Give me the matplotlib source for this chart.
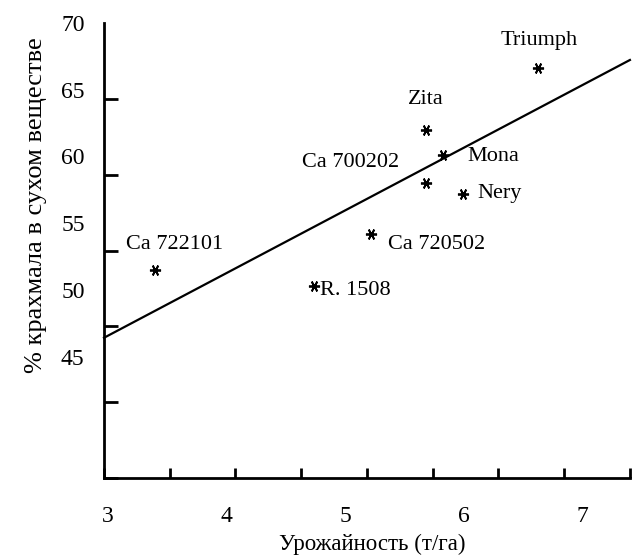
import numpy as np
import matplotlib
matplotlib.use('Agg')
import matplotlib.pyplot as plt

plt.rcParams['font.family'] = ['Liberation Serif', 'DejaVu Serif']

# sorts: yield (t/ha) and starch in dry matter (%)
names = ['Ca 722101', 'R. 1508', 'Ca 720502', 'Ca 700202', 'Zita', 'Mona', 'Nery', 'Triumph']
yield_t = [3.40, 4.74, 5.22, 5.68, 5.68, 5.83, 6.00, 6.63]
starch = [51.5, 50.3, 54.2, 58.0, 62.0, 60.1, 57.2, 66.6]

# trend line
fit_slope = 4.69
fit_intercept = 32.5

x_ticks = [3, 4, 5, 6, 7]
y_ticks = [45, 50, 55, 60, 65, 70]

# label placement (offset in points, alignment)
offsets = [(14, 18, 'center'), (4, -3, 'left'), (12, -8, 'left'), (-19, 15, 'right'),
           (0, 22, 'center'), (17, -1, 'left'), (10, 0, 'left'), (1, 20, 'center')]

fig = plt.figure(figsize=(6.35, 5.6), dpi=100)
ax = fig.add_axes([0.1638, 0.1464, 0.8282, 0.8125])

xlo, xhi = 2.966, 7.405
ylo, yhi = 35.9, 70.0
ax.set_xlim(xlo, xhi)
ax.set_ylim(ylo, yhi)

xs = np.array([xlo, xhi])
ax.plot(xs, fit_intercept + fit_slope * xs, color='black', lw=1.6, clip_on=False)

ax.plot(yield_t, starch, linestyle='none', marker=(6, 2, 90), markersize=8,
        markeredgewidth=1.3, color='black')

for name, x, y, (dx, dy, ha) in zip(names, yield_t, starch, offsets):
    ax.annotate(name, (x, y), xytext=(dx, dy), textcoords='offset points',
                ha=ha, va='center', fontsize=16)

for s in ['top', 'right']:
    ax.spines[s].set_visible(False)
for s in ['left', 'bottom']:
    ax.spines[s].set_linewidth(2)

ax.set_xticks(x_ticks)
ax.set_yticks(y_ticks)
ax.tick_params(axis='both', which='major', length=0, labelsize=17)
ax.tick_params(axis='x', which='major', pad=20)
ax.tick_params(axis='y', which='major', pad=14)

ax.set_xticks(np.linspace(xlo, xhi, 9), minor=True)
ax.set_yticks(np.linspace(ylo, yhi, 7), minor=True)
ax.tick_params(axis='x', which='minor', direction='in', length=7, width=2)
ax.tick_params(axis='y', which='minor', direction='in', length=10, width=2)

ax.set_xlabel('Урожайность (т/га)', fontsize=16.5)
ax.set_ylabel('% крахмала в сухом веществе', fontsize=19)
ax.xaxis.set_label_coords(0.51, -0.122)
ax.yaxis.set_label_coords(-0.108, 0.6)

fig.savefig('out.png', dpi=100)
